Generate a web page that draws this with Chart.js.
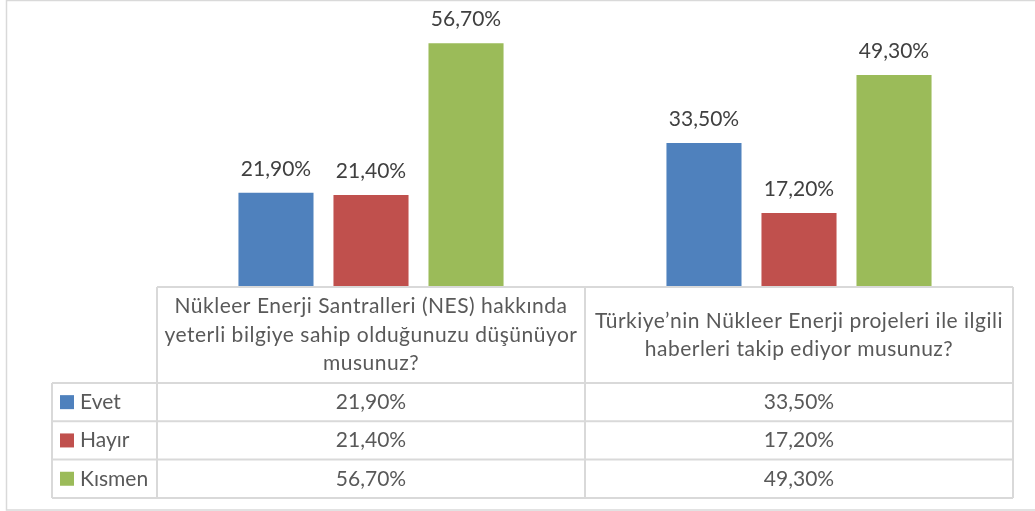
<!DOCTYPE html>
<html>
<head>
<meta charset="utf-8">
<script src="https://cdn.jsdelivr.net/npm/chart.js@4.4.0/dist/chart.umd.min.js"></script>
<style>
    html, body { margin: 0; padding: 0; background: #FFFFFF; }
    #wrap { width: 1035px; height: 511px; position: relative; }
</style>
</head>
<body>
<div id="wrap"><canvas id="nesChart"></canvas></div>
<script>
// Survey data (percent)
const questions = [
    ['Nükleer Enerji Santralleri (NES) hakkında', 'yeterli bilgiye sahip olduğunuzu düşünüyor', 'musunuz?'],
    ['Türkiye’nin Nükleer Enerji projeleri ile ilgili', 'haberleri takip ediyor musunuz?']
];
const seriesNames = ['Evet', 'Hayır', 'Kısmen'];
const evetValues = [21.9, 33.5];
const hayirValues = [21.4, 17.2];
const kismenValues = [56.7, 49.3];
const seriesColors = ['#4F81BD', '#C0504D', '#9BBB59'];

const FONT = '21px Lato, "Open Sans", sans-serif';
const GRID = '#D9D9D9';

function fmt(v) {
    return v.toFixed(2).replace('.', ',') + '%';
}

// Excel-style data table below the plot area
const dataTablePlugin = {
    id: 'dataTable',
    afterDraw(chart) {
        const ctx = chart.ctx;
        const area = chart.chartArea;
        const xs = chart.scales.x;
        const headerH = 96, rowH = 38.3, legendLeft = 52;
        const top = area.bottom;
        const rowsTop = top + headerH;
        const bottom = rowsTop + rowH * seriesNames.length;

        ctx.save();

        // outer chart border
        ctx.strokeStyle = GRID;
        ctx.lineWidth = 1.5;
        ctx.strokeRect(6.5, 0.5, 1100, 509.5);

        // data labels above bars
        ctx.fillStyle = '#404040';
        ctx.font = FONT;
        ctx.textAlign = 'center';
        ctx.textBaseline = 'middle';
        chart.data.datasets.forEach((ds, di) => {
            chart.getDatasetMeta(di).data.forEach((bar, i) => {
                ctx.fillText(fmt(ds.data[i]), bar.x, bar.y - 24);
            });
        });

        // column boundaries from the category scale
        const bounds = [area.left];
        for (let i = 0; i < questions.length - 1; i++) {
            bounds.push((xs.getPixelForValue(i) + xs.getPixelForValue(i + 1)) / 2);
        }
        bounds.push(area.right);

        ctx.strokeStyle = GRID;
        ctx.lineWidth = 2;
        ctx.beginPath();
        // horizontal lines
        ctx.moveTo(area.left, top); ctx.lineTo(area.right, top);
        for (let r = 0; r <= seriesNames.length; r++) {
            const y = rowsTop + r * rowH;
            ctx.moveTo(legendLeft, y); ctx.lineTo(area.right, y);
        }
        // vertical lines
        bounds.forEach(x => { ctx.moveTo(x, top); ctx.lineTo(x, bottom); });
        ctx.moveTo(legendLeft, rowsTop); ctx.lineTo(legendLeft, bottom);
        ctx.stroke();

        // header text (slightly tracked to get Calibri-like width)
        ctx.fillStyle = '#595959';
        ctx.letterSpacing = '0.5px';
        questions.forEach((lines, i) => {
            const cx = xs.getPixelForValue(i);
            const lh = 28.5;
            const y0 = top + headerH / 2 - (lines.length - 1) * lh / 2;
            lines.forEach((ln, k) => ctx.fillText(ln, cx, y0 + k * lh));
        });
        ctx.letterSpacing = '0px';

        // rows
        chart.data.datasets.forEach((ds, di) => {
            const cy = rowsTop + di * rowH + rowH / 2;
            ctx.fillStyle = ds.backgroundColor;
            ctx.fillRect(60, cy - 7, 14, 14);
            ctx.fillStyle = '#595959';
            ctx.textAlign = 'left';
            ctx.fillText(ds.label, 80, cy);
            ctx.textAlign = 'center';
            ds.data.forEach((v, i) => ctx.fillText(fmt(v), xs.getPixelForValue(i), cy));
        });

        ctx.restore();
    }
};

new Chart(document.getElementById('nesChart'), {
    type: 'bar',
    data: {
        labels: questions,
        datasets: [
            { label: seriesNames[0], data: evetValues, backgroundColor: seriesColors[0] },
            { label: seriesNames[1], data: hayirValues, backgroundColor: seriesColors[1] },
            { label: seriesNames[2], data: kismenValues, backgroundColor: seriesColors[2] }
        ]
    },
    options: {
        responsive: true,
        maintainAspectRatio: false,
        animation: false,
        categoryPercentage: 0.666,
        barPercentage: 0.79,
        layout: { padding: { left: 157, right: 22, top: 29, bottom: 224 } },
        plugins: {
            legend: { display: false },
            tooltip: { enabled: false }
        },
        scales: {
            x: { display: false },
            y: { display: false, min: 0, max: 60 }
        }
    },
    plugins: [dataTablePlugin]
});
</script>
</body>
</html>
